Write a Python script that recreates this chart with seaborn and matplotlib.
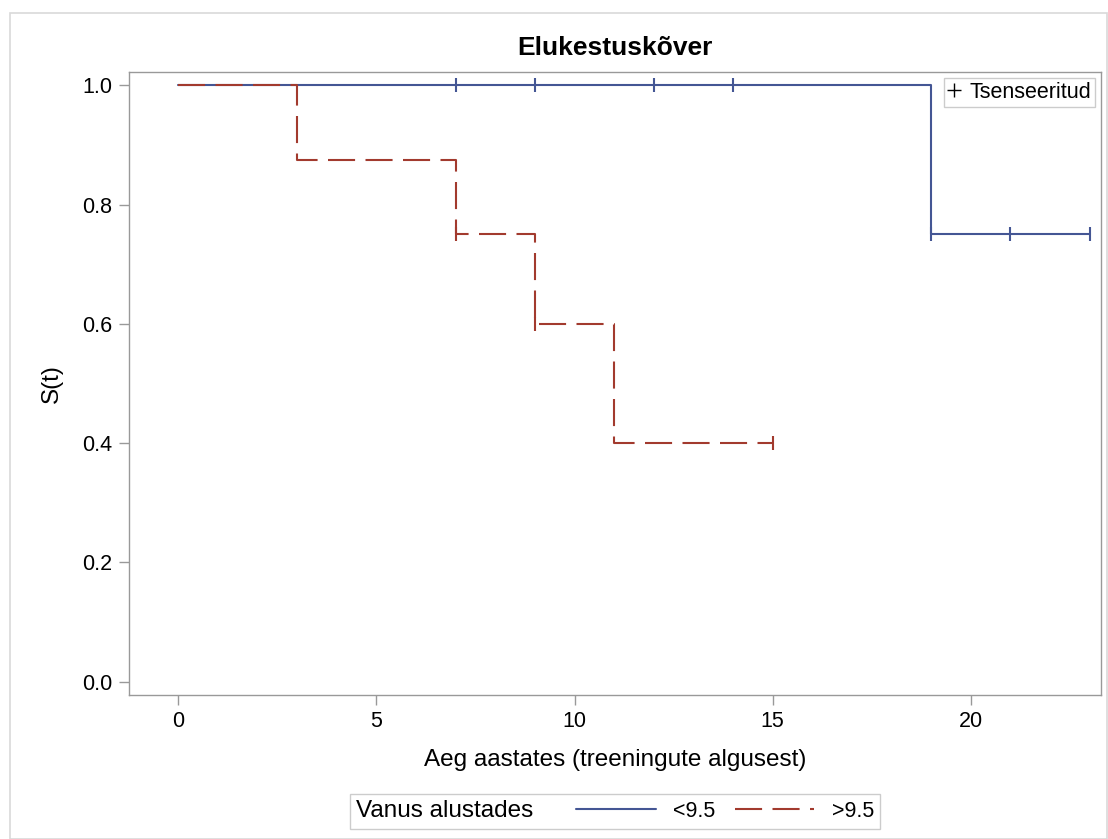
import pandas as pd
import matplotlib
matplotlib.use("Agg")
import matplotlib.pyplot as plt
import seaborn as sns
from matplotlib.lines import Line2D
from matplotlib.offsetbox import HPacker

# ----- DATA -----
# Kaplan-Meier step points (time, survival) for both age groups
young_time = [0, 19, 23]
young_surv = [1.0, 0.75, 0.75]
old_time = [0, 3, 7, 9, 11, 15]
old_surv = [1.0, 0.875, 0.75, 0.6, 0.4, 0.4]

# censored observations
young_cens_time = [7, 9, 12, 14, 19, 21, 23]
young_cens_surv = [1.0, 1.0, 1.0, 1.0, 0.75, 0.75, 0.75]
old_cens_time = [7, 9, 15]
old_cens_surv = [0.75, 0.6, 0.4]

groups = ["<9.5", ">9.5"]
colors = {"<9.5": "#445694", ">9.5": "#A23A2E"}

steps = pd.concat([
    pd.DataFrame({"t": young_time, "s": young_surv, "grupp": groups[0]}),
    pd.DataFrame({"t": old_time, "s": old_surv, "grupp": groups[1]}),
])
cens = pd.concat([
    pd.DataFrame({"t": young_cens_time, "s": young_cens_surv, "grupp": groups[0]}),
    pd.DataFrame({"t": old_cens_time, "s": old_cens_surv, "grupp": groups[1]}),
])

sns.set_style("white")
plt.rcParams["font.family"] = ["Liberation Sans", "DejaVu Sans"]
plt.rcParams["text.color"] = "black"
plt.rcParams["axes.labelcolor"] = "black"

fig = plt.figure(figsize=(11.08, 8.39), dpi=100)
ax = fig.add_axes([0.1165, 0.172, 0.877, 0.742])

# ----- SURVIVAL CURVES -----
dash = (0, (13, 5))
for g in groups:
    d = steps[steps["grupp"] == g]
    sns.lineplot(data=d, x="t", y="s", ax=ax, color=colors[g], drawstyle="steps-post",
                 estimator=None, sort=False, lw=1.5,
                 linestyle="-" if g == groups[0] else dash)
    c = cens[cens["grupp"] == g]
    sns.scatterplot(data=c, x="t", y="s", ax=ax, color=colors[g], marker="|",
                    s=90, linewidth=1.5, zorder=3)

ax.set_xlim(-1.24, 23.28)
ax.set_ylim(-0.022, 1.022)
ax.set_xticks([0, 5, 10, 15, 20])
ax.set_yticks([0.0, 0.2, 0.4, 0.6, 0.8, 1.0])
ax.set_yticklabels(["0.0", "0.2", "0.4", "0.6", "0.8", "1.0"])
ax.tick_params(axis="both", labelsize=15.5, labelcolor="black", length=7, width=1,
               color="#999999", direction="out", bottom=True, left=True, pad=5)
for sp in ax.spines.values():
    sp.set_color("#999999")
    sp.set_linewidth(1)

ax.set_xlabel("Aeg aastates (treeningute algusest)", fontsize=17.5, labelpad=12)
ax.set_ylabel("S(t)", fontsize=17.5, labelpad=14)
ax.set_title("Elukestuskõver", fontsize=19, fontweight="bold", pad=12)

# inset legend for censoring
cleg = ax.legend([Line2D([], [], color="black", marker="+", linestyle="none", markersize=10)],
                 ["Tsenseeritud"], loc="upper right", fontsize=15.5, handlelength=0.6,
                 handletextpad=0.4, borderpad=0.2, borderaxespad=0.25,
                 fancybox=False, framealpha=1, edgecolor="#cccccc")
cleg.get_frame().set_linewidth(1)

# bottom legend with title on the left
handles = [Line2D([], [], color=colors[groups[0]], lw=1.5),
           Line2D([], [], color=colors[groups[1]], lw=1.5, linestyle=dash)]
leg = fig.legend(handles, groups, title="Vanus alustades", ncol=2, loc="lower center",
                 bbox_to_anchor=(0.555, 0.012), fontsize=15.5, title_fontsize=17.5,
                 handlelength=3.7, handletextpad=0.8, columnspacing=0.9,
                 fancybox=False, framealpha=1, edgecolor="#cccccc", borderpad=0.3,
                 borderaxespad=0)
fs = leg._fontsize
leg._legend_box = HPacker(pad=leg.borderpad * fs, sep=2.0 * fs, align="center",
                          children=[leg._legend_title_box, leg._legend_handle_box])
leg._legend_box.set_figure(fig)
leg._legend_box.set_offset(leg._findoffset)
leg.get_frame().set_linewidth(1)

# outer figure frame
fig.patches.append(plt.Rectangle((0.009, 0.0), 0.99, 0.984, transform=fig.transFigure,
                                 fill=False, edgecolor="#d9d9d9", lw=1.2))

fig.savefig("out.png", dpi=100)
